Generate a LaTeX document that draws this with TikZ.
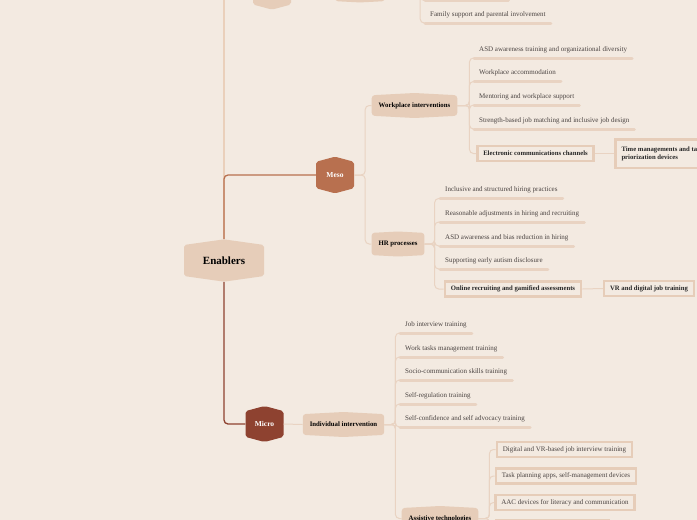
\documentclass[tikz,border=0pt]{standalone}
\usepackage{fontspec}
\setmainfont{Liberation Serif}
\usetikzlibrary{positioning, shapes.symbols}
\definecolor{canvas}{HTML}{F3EAE1}
\definecolor{sand}{HTML}{E6CDB9}
\definecolor{sandline}{HTML}{E9D3C2}
\definecolor{peach}{HTML}{E6C3A8}
\definecolor{rust}{HTML}{B8704F}
\definecolor{brick}{HTML}{8E4230}
\definecolor{ink}{HTML}{4A4341}
\tikzset{
  root/.style={signal, signal to=north and south, signal pointer angle=164, fill=sand, rounded corners=2pt, inner sep=0pt, minimum width=80pt, minimum height=37pt, font=\bfseries\fontsize{11}{12}\selectfont},
  level/.style={signal, signal to=north and south, signal pointer angle=150, rounded corners=2pt, inner sep=0pt, minimum width=38pt, minimum height=31pt, text=white, font=\bfseries\fontsize{7.5}{8}\selectfont},
  branch/.style={signal, signal to=north and south, signal pointer angle=174, fill=sand, rounded corners=3pt, inner xsep=7pt, minimum height=25pt, font=\bfseries\fontsize{6.8}{7.5}\selectfont},
  leaf/.style={anchor=south west, inner xsep=5pt, inner ysep=0pt, text height=5pt, text depth=6.5pt, text=ink, font=\fontsize{7}{8}\selectfont},
  boxleaf/.style={draw=sand, line width=2.5pt, fill=canvas, inner xsep=6pt, minimum height=15pt, text=black!85, font=\bfseries\fontsize{6.7}{8}\selectfont},
  toolleaf/.style={boxleaf, text=ink, font=\fontsize{7}{8}\selectfont},
  underline/.style={draw=sandline, line width=3pt, line cap=round},
  link/.style={draw=sandline, line width=1pt, rounded corners=4pt},
  trunk/.style={line width=1.3pt, rounded corners=4pt},
}

\begin{document}
\begin{tikzpicture}[x=1pt, y=-1pt]
  \useasboundingbox (0,0) rectangle (697,520);
  \clip (0,0) rectangle (697,520);
  \fill[canvas] (0,0) rectangle (697,520);

  % Root and the three levels
  \node[root] (en) at (224,260.5) {Enablers};
  \node[level, fill=sand] (macro) at (272,-11) {};
  \node[level, fill=rust] (meso) at (335,175) {Meso};
  \node[level, fill=brick] (micro) at (264.5,424) {Micro};
  \draw[trunk, draw=peach] (en.north) |- (macro.west);
  \draw[trunk, draw=rust] (en.north) |- (meso.west);
  \draw[trunk, draw=brick] (en.south) |- (micro.west);

  % Macro (cut off at the top)
  \node[branch, minimum width=50pt] (soc) at (360,-11) {};
  \node[leaf, minimum width=83pt] (f0) at (425,0.5) {};
  \node[leaf] (f1) at (425,23) {Family support and parental involvement};
  \draw[link] (macro.east) -- (soc.west);
  \draw[link] (soc.east) -- ++(35,0) |- (f0.south west);
  \draw[link] (soc.east) -- ++(35,0) |- (f1.south west);

  % Meso: workplace interventions
  \node[branch] (wp) at (414.5,105.5) {Workplace interventions};
  \node[leaf] (w1) at (474,58) {ASD awareness training and organizational diversity};
  \node[leaf] (w2) at (474,81.5) {Workplace accommodation};
  \node[leaf] (w3) at (474,105) {Mentoring and workplace support};
  \node[leaf] (w4) at (474,129) {Strength-based job matching and inclusive job design};
  \node[boxleaf] (w5) at (535.5,153.5) {Electronic communications channels};
  \node[boxleaf, anchor=west, align=left, minimum height=28.5pt] (w6) at (614.25,153.5) {Time managements and task\\priorization devices};
  \draw[link] (meso.east) -- ++(11,0) |- (wp.west);
  \foreach \n in {w1,w2,w3,w4}
    \draw[link] (wp.east) -- ++(12,0) |- (\n.south west);
  \draw[link] (wp.east) -- ++(12,0) |- (w5.west);
  \draw[link] (w5.east) -- (w6.west);

  % Meso: HR processes
  \node[branch] (hr) at (398,244) {HR processes};
  \node[leaf] (h1) at (440,198.5) {Inclusive and structured hiring practices};
  \node[leaf] (h2) at (440,222) {Reasonable adjustments in hiring and recruiting};
  \node[leaf] (h3) at (440,246) {ASD awareness and bias reduction in hiring};
  \node[leaf] (h4) at (440,269) {Supporting early autism disclosure};
  \node[boxleaf] (h5) at (513,289) {Online recruiting and gamified assessments};
  \node[boxleaf] (h6) at (649,288.5) {VR and digital job training};
  \draw[link] (meso.east) -- ++(11,0) |- (hr.west);
  \foreach \n in {h1,h2,h3,h4}
    \draw[link] (hr.east) -- ++(10,0) |- (\n.south west);
  \draw[link] (hr.east) -- ++(10,0) |- (h5.west);
  \draw[link] (h5.east) -- (h6.west);

  % Micro: individual intervention
  \node[branch] (ind) at (343.5,424.5) {Individual intervention};
  \node[leaf] (i1) at (400,333) {Job interview training};
  \node[leaf] (i2) at (400,357) {Work tasks management training};
  \node[leaf] (i3) at (400,380) {Socio-communication skills training};
  \node[leaf] (i4) at (400,404) {Self-regulation training};
  \node[leaf] (i5) at (400,427) {Self-confidence and self advocacy training};
  \node[branch] (tech) at (440,518.5) {Assistive technologies};
  \draw[link] (micro.east) -- (ind.west);
  \foreach \n in {i1,i2,i3,i4,i5}
    \draw[link] (ind.east) -- ++(11,0) |- (\n.south west);
  \draw[link] (ind.east) -- ++(11,0) |- (tech.west);

  % Assistive technologies
  \node[toolleaf] (t1) at (564.5,449.5) {Digital and VR-based job interview training};
  \node[toolleaf] (t2) at (566,476) {Task planning apps, self-management devices};
  \node[toolleaf] (t3) at (565,502.5) {AAC devices for literacy and communication};
  \node[toolleaf, minimum width=112pt] (t4) at (552.5,528) {};
  \foreach \n in {t1,t2,t3,t4}
    \draw[link] (tech.east) -- ++(11,0) |- (\n.west);

  % underlines of the plain leaves
  \foreach \n in {f0,f1,w1,w2,w3,w4,h1,h2,h3,h4,i1,i2,i3,i4,i5}
    \draw[underline] (\n.south west) -- (\n.south east);
\end{tikzpicture}
\end{document}
